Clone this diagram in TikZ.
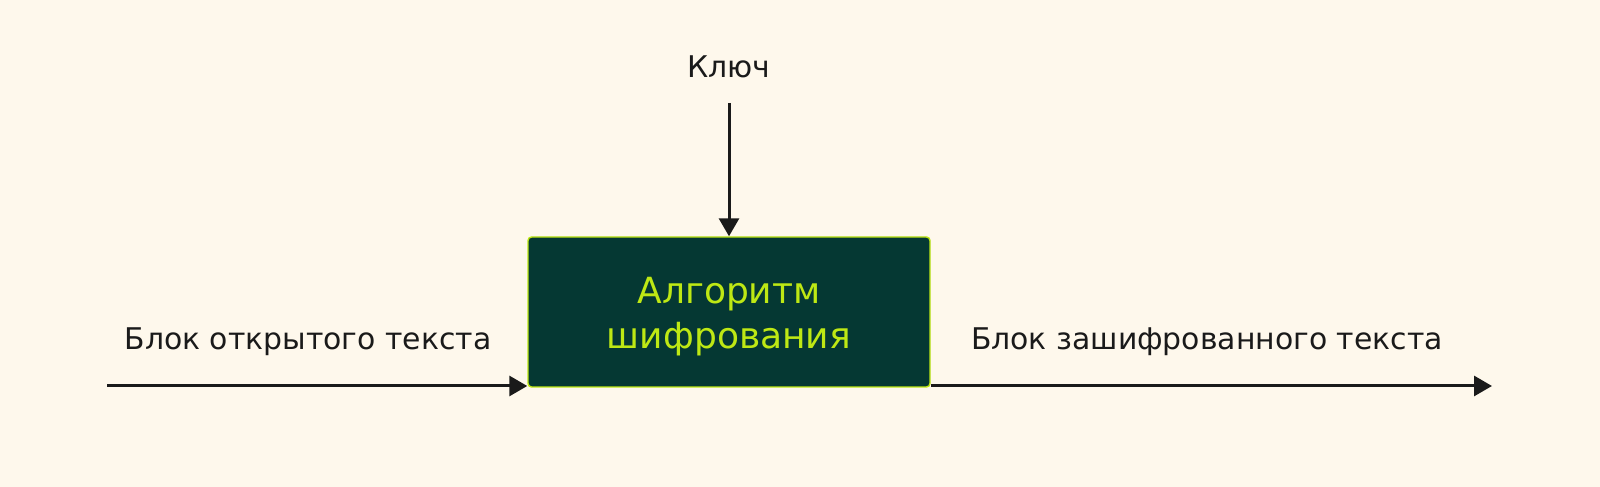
\documentclass[tikz,border=0pt]{standalone}
\usepackage{fontspec}
\setmainfont{DejaVu Sans}
\usetikzlibrary{arrows.meta,positioning,calc}
\definecolor{cream}{RGB}{254,248,236}
\definecolor{pine}{RGB}{5,56,51}
\definecolor{lime}{RGB}{190,232,20}
\definecolor{ink}{RGB}{26,26,26}

\begin{document}
\begin{tikzpicture}[
    arr/.style={ink,line width=1.7pt,-{Triangle[length=0.36cm,width=0.4cm]}},
    lbl/.style={font=\fontsize{17}{20}\selectfont,text=ink,anchor=base}
  ]
    \fill[cream] (0,0) rectangle (32,9.74);
    \node[fill=pine,draw=lime,line width=0.8pt,rounded corners=2pt,
      minimum width=8.04cm,minimum height=3cm,align=center,text=lime,
      font=\fontsize{20.5}{25.5}\selectfont] (algo) at (14.58,3.5)
      {\rule{0pt}{0.7cm}Алгоритм\\шифрования};
    \node[lbl] (key) at (14.58,8.19) {Ключ};
    \node[lbl] (plain) at (6.16,2.74) {Блок открытого текста};
    \node[lbl] (cipher) at (24.14,2.74) {Блок зашифрованного текста};
    \coordinate (keyend) at (14.58,7.68);
    \coordinate (inend) at (2.14,2.02);
    \coordinate (outend) at (29.84,2.02);
    \draw[arr] (keyend) -- (algo.north);
    \draw[arr] (inend) -- (inend -| algo.west);
    \draw[arr] (outend -| algo.east) -- (outend);
  \end{tikzpicture}
\end{document}
